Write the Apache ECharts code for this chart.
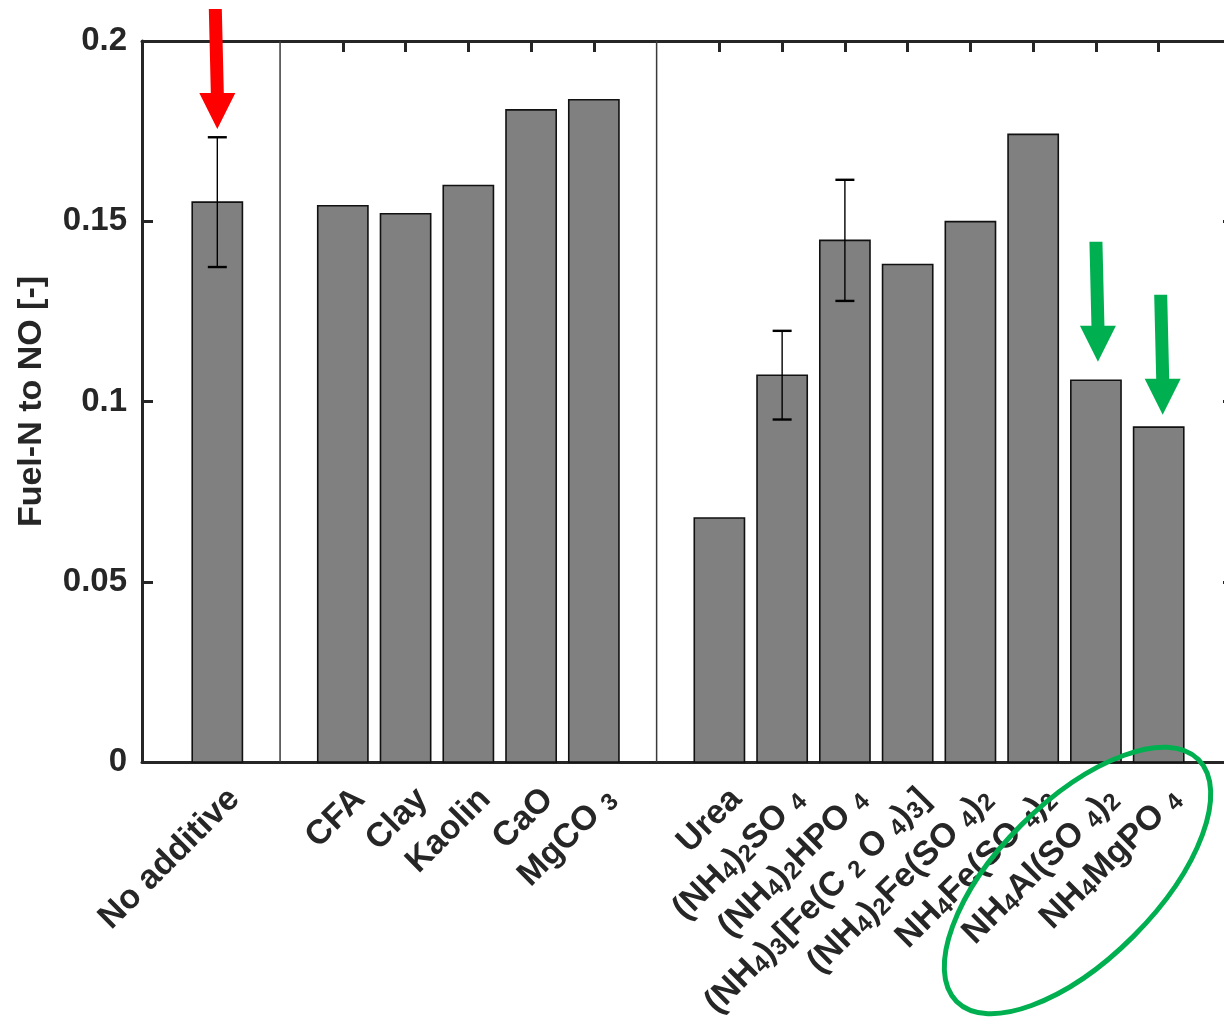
<!DOCTYPE html>
<html>
<head>
<meta charset="utf-8">
<script src="https://cdn.jsdelivr.net/npm/echarts@6/dist/echarts.min.js"></script>
<style>
  html, body { margin: 0; padding: 0; background: #fff; }
  #main { width: 1224px; height: 1018px; }
</style>
</head>
<body>
<div id="main"></div>
<script>
// data
var positions = [1, 3, 4, 5, 6, 7, 9, 10, 11, 12, 13, 14, 15, 16];
var labels = [
  'No additive', 'CFA', 'Clay', 'Kaolin', 'CaO', 'MgCO {s|3}',
  'Urea',
  '(NH{s|4}){s|2}SO {s|4}',
  '(NH{s|4}){s|2}HPO {s|4}',
  '(NH{s|4}){s|3}[Fe(C {s|2} O {s|4}){s|3}]',
  '(NH{s|4}){s|2}Fe(SO {s|4}){s|2}',
  'NH{s|4}Fe(SO {s|4}){s|2}',
  'NH{s|4}Al(SO {s|4}){s|2}',
  'NH{s|4}MgPO {s|4}'
];
var values = [0.1553, 0.1543, 0.1521, 0.1599, 0.1809, 0.1837,
              0.0677, 0.1073, 0.1447, 0.1380, 0.1499, 0.1741, 0.1059, 0.0929];
var errPositions = [1, 10, 11];
var errValues = [0.1553, 0.1073, 0.1447];
var errSizes = [0.0180, 0.0123, 0.0168];
var dividers = [2, 8];

// annotation arrows (tip value in data units)
var arrowPos = [1, 15, 16];
var arrowTip = [0.1756, 0.1110, 0.0963];

var myChart = echarts.init(document.getElementById('main'));
var dark = '#262626';
var font = '"Liberation Sans", Arial, sans-serif';

var bars = positions.map(function (p, i) { return [p, values[i]]; });
var errs = errPositions.map(function (p, i) { return [p, errValues[i], errSizes[i]]; });
var divs = dividers.map(function (p) { return [p, 0]; });
var labs = positions.map(function (p, i) { return [p, 0, i]; });
var arrows = arrowPos.map(function (p, i) { return [p, arrowTip[i], i]; });

var arrowStyle = [
  { color: '#FF0000', len: 120, dx: 0 },
  { color: '#00B050', len: 120, dx: 2 },
  { color: '#00B050', len: 120, dx: 4 }
];

var option = {
  animation: false,
  grid: { left: 142, top: 41, right: -10, bottom: 256, containLabel: false, outerBoundsMode: 'none' },
  xAxis: [{
    type: 'value', min: -0.2, max: 17.2, position: 'bottom',
    axisLine: { show: true, onZero: false, lineStyle: { color: dark, width: 3 } },
    axisTick: { show: true, inside: true, length: 11, customValues: positions,
                lineStyle: { color: dark, width: 3 } },
    axisLabel: { show: false },
    splitLine: { show: false }
  }, {
    type: 'value', min: -0.2, max: 17.2, position: 'top',
    axisLine: { show: true, onZero: false, lineStyle: { color: dark, width: 3 } },
    axisTick: { show: true, inside: true, length: 11, customValues: positions,
                lineStyle: { color: dark, width: 3 } },
    axisLabel: { show: false },
    splitLine: { show: false }
  }],
  yAxis: [{
    type: 'value', min: 0, max: 0.2, interval: 0.05, position: 'left',
    name: 'Fuel-N to NO [-]', nameLocation: 'middle', nameGap: 93, nameRotate: 90,
    nameMoveOverlap: false,
    nameTextStyle: { fontSize: 34, fontWeight: 'bold', fontFamily: font, color: dark },
    axisLine: { show: true, onZero: false, lineStyle: { color: dark, width: 3 } },
    axisTick: { show: true, inside: true, length: 11, lineStyle: { color: dark, width: 3 } },
    axisLabel: { fontSize: 33, fontWeight: 'bold', fontFamily: font, color: dark, margin: 15,
                 formatter: function (v) { return String(+v.toFixed(2)); } },
    splitLine: { show: false }
  }, {
    type: 'value', min: 0, max: 0.2, interval: 0.05, position: 'right',
    axisLine: { show: true, onZero: false, lineStyle: { color: dark, width: 3 } },
    axisTick: { show: true, inside: true, length: 11, lineStyle: { color: dark, width: 3 } },
    axisLabel: { show: false },
    splitLine: { show: false }
  }],
  series: [{
    // group dividers
    type: 'custom', data: divs, z: 1,
    renderItem: function (params, api) {
      var a = api.coord([api.value(0), 0]);
      var b = api.coord([api.value(0), 0.2]);
      return { type: 'line', shape: { x1: a[0], y1: a[1], x2: b[0], y2: b[1] },
               style: { stroke: '#3a3a3a', lineWidth: 1.5 } };
    }
  }, {
    // bars
    type: 'custom', data: bars, z: 2,
    renderItem: function (params, api) {
      var x = api.value(0), y = api.value(1);
      var p0 = api.coord([x - 0.4, y]);
      var p1 = api.coord([x + 0.4, 0]);
      return { type: 'rect',
               shape: { x: p0[0], y: p0[1], width: p1[0] - p0[0], height: p1[1] - p0[1] },
               style: { fill: '#808080', stroke: '#111', lineWidth: 1.6 } };
    }
  }, {
    // error bars
    type: 'custom', data: errs, z: 3,
    renderItem: function (params, api) {
      var x = api.value(0), y = api.value(1), e = api.value(2);
      var top = api.coord([x, y + e]);
      var bot = api.coord([x, y - e]);
      var cap = 9.5;
      return { type: 'group', children: [
        { type: 'line', shape: { x1: top[0], y1: top[1], x2: bot[0], y2: bot[1] },
          style: { stroke: '#000', lineWidth: 1.4 } },
        { type: 'line', shape: { x1: top[0] - cap, y1: top[1], x2: top[0] + cap, y2: top[1] },
          style: { stroke: '#000', lineWidth: 2.4 } },
        { type: 'line', shape: { x1: bot[0] - cap, y1: bot[1], x2: bot[0] + cap, y2: bot[1] },
          style: { stroke: '#000', lineWidth: 2.4 } }
      ] };
    }
  }, {
    // category labels
    type: 'custom', data: labs, z: 4,
    renderItem: function (params, api) {
      var pt = api.coord([api.value(0), 0]);
      return { type: 'text', x: pt[0] + 17, y: pt[1] + 32, rotation: Math.PI / 4,
               style: { text: labels[api.value(2)], fill: dark,
                        fontSize: 34, fontWeight: 'bold', fontFamily: font,
                        align: 'right', verticalAlign: 'middle', lineHeight: 36,
                        rich: { s: { fontSize: 24, fontWeight: 'bold', fontFamily: font,
                                     fill: dark, verticalAlign: 'bottom', lineHeight: 8 } } } };
    }
  }, {
    // arrows
    type: 'custom', data: arrows, z: 5,
    renderItem: function (params, api) {
      var s = arrowStyle[api.value(2)];
      var tip = api.coord([api.value(0), api.value(1)]);
      var tx = tip[0] + s.dx, ty = tip[1];
      var hl = 36, hw = 18, sw = 6.5, slant = -2;
      return { type: 'polygon', shape: { points: [
                 [tx - sw + slant, ty - s.len], [tx + sw + slant, ty - s.len],
                 [tx + sw, ty - hl], [tx + hw, ty - hl], [tx, ty],
                 [tx - hw, ty - hl], [tx - sw, ty - hl]] },
               style: { fill: s.color } };
    }
  }],
  graphic: [{
    type: 'ellipse', x: 1077.5, y: 880.5, rotation: Math.PI / 4, z: 100,
    shape: { cx: 0, cy: 0, rx: 171, ry: 79 },
    style: { fill: 'none', stroke: '#00B050', lineWidth: 5 }
  }]
};

myChart.setOption(option);
</script>
</body>
</html>
